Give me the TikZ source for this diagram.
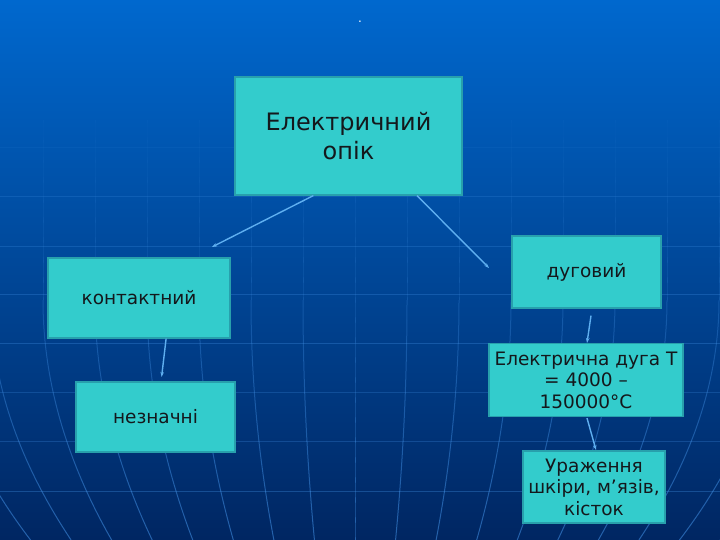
\documentclass[tikz,border=0pt]{standalone}
\usepackage{fontspec}
\setmainfont{DejaVu Sans}
\usetikzlibrary{arrows.meta,calc}
\definecolor{bgtop}{RGB}{0,104,206}
\definecolor{bgmid}{RGB}{0,78,160}
\definecolor{bgbot}{RGB}{0,38,98}
\definecolor{gridc}{RGB}{70,150,235}
\definecolor{boxfill}{RGB}{51,204,204}
\definecolor{boxedge}{RGB}{40,160,172}
\definecolor{textc}{RGB}{20,24,28}
\definecolor{linkc}{RGB}{95,175,240}
\begin{document}
\begin{tikzpicture}[x=1pt,y=-1pt,
  box/.style={draw=boxedge, fill=boxfill, line width=1.2pt, inner sep=0pt,
    align=center, text=textc, font=\fontsize{18.5}{21.5}\selectfont},
  link/.style={draw=linkc, line width=1.4pt, -{Stealth[length=5pt,width=3.5pt]}},
  gridline/.style={draw=gridc, line width=1pt}]
\useasboundingbox (0,0) rectangle (720,540);
\shade[top color=bgtop, middle color=bgmid, bottom color=bgbot] (0,0) rectangle (720,540);
% horizontal grid lines
\foreach \yy/\op in {148/0.08,197/0.2,246/0.24,294/0.28,343/0.3,392/0.24,441/0.26,491/0.32}{
  \draw[gridline, opacity=\op] (0,\yy) -- (720,\yy);
}
% meridians
\foreach \i in {-9,...,9}{
  \foreach \ya in {120,140,...,520}{
    \pgfmathsetmacro\yb{\ya+20}
    \pgfmathsetmacro\op{0.05+0.5*(\ya-120)/420}
    \draw[gridline, opacity=\op] plot[domain=\ya:\yb, samples=5, variable=\t]
      ({355+52*\i*(1-0.22*(max(0,(\t-300)/240))^2)}, \t);
  }
}
% title dot
\node[text=white, font=\fontsize{12}{12}\selectfont, anchor=base, inner sep=0pt] (title) at (360,23) {.};
% boxes
\node[box, minimum width=227pt, minimum height=118pt, font=\fontsize{24}{29}\selectfont] (main) at (348.5,136) {Електричний\\опік};
\node[box, minimum width=182pt, minimum height=80pt] (kont) at (139,298) {контактний};
\node[box, minimum width=149pt, minimum height=72pt] (dug) at (586.5,272) {дуговий};
\node[box, minimum width=159pt, minimum height=70pt] (nez) at (155.5,417) {незначні};
\node[box, minimum width=194pt, minimum height=73pt] (arc) at (586,380) {Електрична дуга Т\\= 4000 –\\150000°C};
\node[box, minimum width=142pt, minimum height=72pt] (ur) at (594,487) {Ураження\\шкіри, мʼязів,\\кісток};
% connector ends
\coordinate (e1) at (212,247);
\coordinate (e2) at (489,268);
\coordinate (e3) at (161.6,377);
\coordinate (e4) at (587,343);
\coordinate (e5) at (596,450);
\draw[link] ($(main.south west)!0.346!(main.south east)$) -- (e1);
\draw[link] ($(main.south west)!0.80!(main.south east)$) -- (e2);
\draw[link] ($(kont.south west)!0.648!(kont.south east)$) -- (e3);
\draw[link] ($(dug.south)+(4.5,7)$) -- (e4);
\draw[link] ($(arc.south)+(1,1)$) -- (e5);
\end{tikzpicture}
\end{document}
